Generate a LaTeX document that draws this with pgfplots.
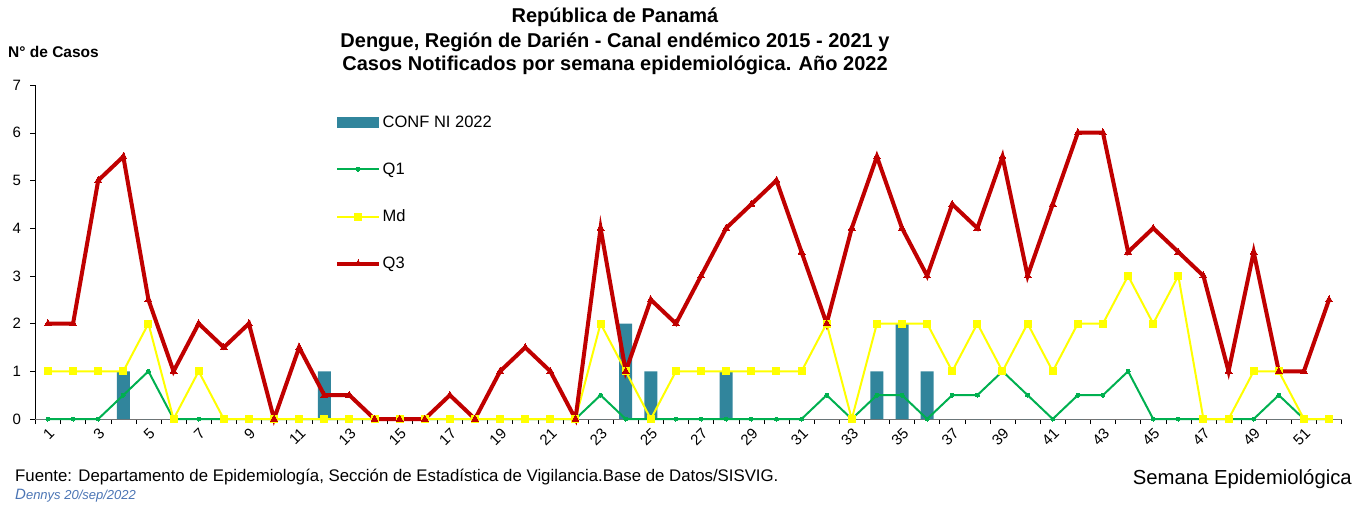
\documentclass[border=0pt]{standalone}
\usepackage{pgfplots}
\pgfplotsset{compat=1.18}
\usepackage{pgfplotstable}
\usepackage{fontspec}
\setmainfont{Liberation Sans}
\definecolor{barc}{HTML}{31859C}
\definecolor{q1c}{HTML}{00B050}
\definecolor{mdc}{HTML}{FFFF00}
\definecolor{q3c}{HTML}{C00000}
\definecolor{dblue}{HTML}{4A74B4}
\pgfplotsset{
  lineleg/.style={legend image code/.code={\draw[##1, mark repeat=2, mark phase=2] plot coordinates {(0pt,0pt) (21pt,0pt) (42pt,0pt)};}},
  barleg/.style={legend image code/.code={\fill[barc] (0pt,-5.5pt) rectangle (42pt,5.5pt);}},
}
\pgfplotstableread{
w conf q1 md q3
1 0 0 1 2
2 0 0 1 2
3 0 0 1 5
4 1 0.5 1 5.5
5 0 1 2 2.5
6 0 0 0 1
7 0 0 1 2
8 0 0 0 1.5
9 0 0 0 2
10 0 0 0 0
11 0 0 0 1.5
12 1 0 0 0.5
13 0 0 0 0.5
14 0 0 0 0
15 0 0 0 0
16 0 0 0 0
17 0 0 0 0.5
18 0 0 0 0
19 0 0 0 1
20 0 0 0 1.5
21 0 0 0 1
22 0 0 0 0
23 0 0.5 2 4
24 2 0 1 1
25 1 0 0 2.5
26 0 0 1 2
27 0 0 1 3
28 1 0 1 4
29 0 0 1 4.5
30 0 0 1 5
31 0 0 1 3.5
32 0 0.5 2 2
33 0 0 0 4
34 1 0.5 2 5.5
35 2 0.5 2 4
36 1 0 2 3
37 0 0.5 1 4.5
38 0 0.5 2 4
39 0 1 1 5.5
40 0 0.5 2 3
41 0 0 1 4.5
42 0 0.5 2 6
43 0 0.5 2 6
44 0 1 3 3.5
45 0 0 2 4
46 0 0 3 3.5
47 0 0 0 3
48 0 0 0 1
49 0 0 1 3.5
50 0 0.5 1 1
51 0 0 0 1
52 0 0 0 2.5
}\datatable
\begin{document}
\begin{tikzpicture}
\path[use as bounding box] (0,0) rectangle (1369pt,507pt);
\begin{axis}[
  at={(35.4pt,88pt)}, anchor=south west,
  scale only axis, width=1306.2pt, height=334pt,
  xmin=0.5, xmax=52.5, ymin=0, ymax=7,
  axis lines*=left,
  axis line style={-},
  x axis line style={draw=black!55},
  y axis line style={draw=black},
  xtick={1,3,...,51},
  minor xtick={0.5,1.5,...,52.5},
  xtick style={draw=none},
  minor x tick style={draw=black, thin},
  ytick={0,1,...,7},
  ytick style={draw=black, thin},
  tick align=outside,
  major tick length=5pt, minor tick length=5pt,
  /pgf/number format/assume math mode=true,
  ticklabel style={font=\fontsize{15}{18}\selectfont},
  xticklabel style={rotate=45, anchor=north east, inner sep=2pt},
  yticklabel style={xshift=-6pt},
  legend cell align=left,
  legend style={draw=none, fill=none, at={(0.2294,0.913)}, anchor=north west,
    font=\fontsize{16.5}{19}\selectfont, row sep=31pt, inner sep=0pt,
    nodes={inner sep=1.5pt}},
  clip=false,
]
\addplot[ybar, bar width=13pt, fill=barc, draw=none, barleg]
  table[x=w, y=conf] {\datatable};
\addlegendentry{CONF NI 2022}
\addplot[color=q1c, line width=2pt, mark=*, mark size=2pt,
  mark options={fill=q1c, draw=q1c, line width=0pt}, lineleg]
  table[x=w, y=q1] {\datatable};
\addlegendentry{Q1}
\addplot[color=mdc, line width=2pt, mark=square*, mark size=3.5pt,
  mark options={fill=mdc, draw=mdc, line width=0pt}, lineleg]
  table[x=w, y=md] {\datatable};
\addlegendentry{Md}
\addplot[color=q3c, line width=4pt, mark=triangle*, mark size=4pt,
  mark options={fill=q3c, draw=q3c, line width=0pt}, lineleg]
  table[x=w, y=q3] {\datatable};
\addlegendentry{Q3}
\end{axis}
\node[font=\bfseries\fontsize{20}{24}\selectfont] at (615pt,490pt) {República de Panamá};
\node[font=\bfseries\fontsize{20}{24}\selectfont] at (615pt,465pt) {Dengue, Región de Darién - Canal endémico 2015 - 2021 y};
\node[font=\bfseries\fontsize{20}{24}\selectfont] at (615pt,442pt) {Casos Notificados por semana epidemiológica. Año 2022};
\node[font=\bfseries\fontsize{15.5}{18}\selectfont, anchor=west, inner sep=0pt] at (8pt,455pt) {N° de Casos};
\node[font=\fontsize{16.8}{19}\selectfont, anchor=west, inner sep=0pt] at (15pt,30pt) {Fuente: Departamento de Epidemiología, Sección de Estadística de Vigilancia.Base de Datos/SISVIG.};
\node[font=\fontsize{20.3}{24}\selectfont, anchor=east, inner sep=0pt] at (1352pt,28pt) {Semana Epidemiológica};
\node[font=\itshape\fontsize{13}{15}\selectfont, text=dblue, anchor=west, inner sep=0pt] at (15pt,11pt) {{\fontsize{15}{15}\selectfont D}ennys 20/sep/2022};
\end{tikzpicture}
\end{document}
